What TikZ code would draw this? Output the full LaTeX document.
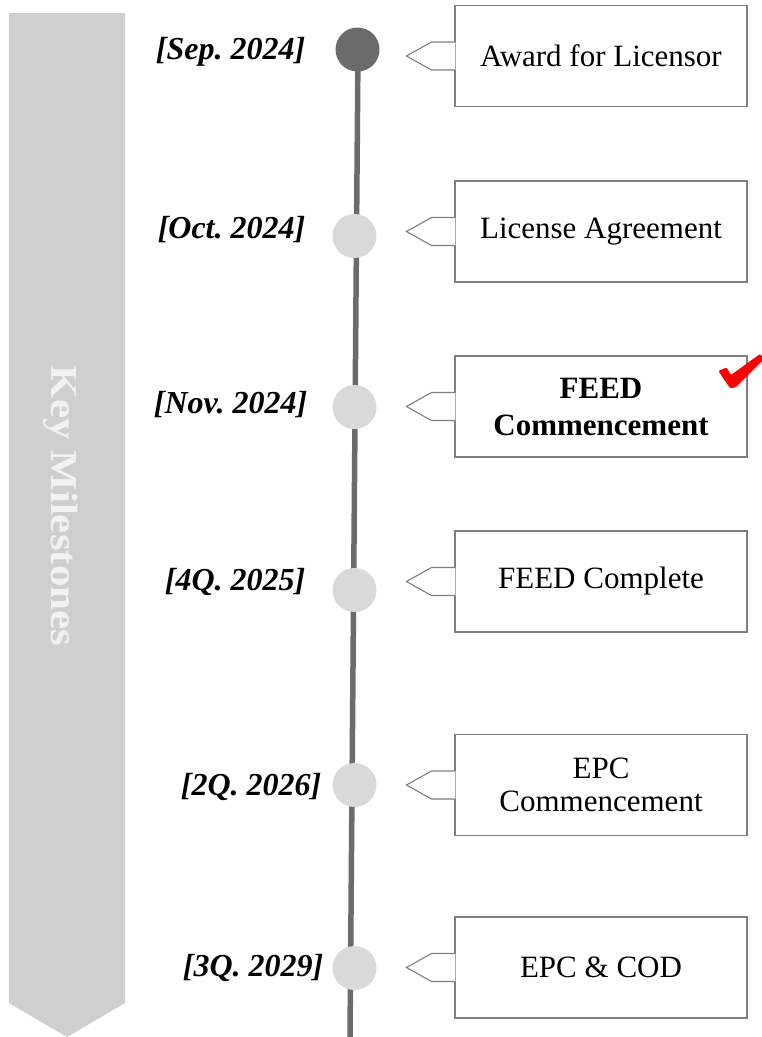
\documentclass[tikz,border=0pt]{standalone}
\usepackage{fontspec}
\setmainfont{Liberation Serif}
\usepackage{tikz}
\usetikzlibrary{positioning,calc}
\definecolor{bandgray}{HTML}{CFCFCF}
\definecolor{linegray}{HTML}{6B6B6B}
\definecolor{dotgray}{HTML}{D9D9D9}
\definecolor{boxgray}{HTML}{7F7F7F}
\tikzset{every picture/.style={line width=0.75pt}}

\begin{document}
\frenchspacing
\begin{tikzpicture}[x=1pt,y=-1pt,
    dot/.style={circle,minimum size=44pt,inner sep=0pt,fill=dotgray},
    datelbl/.style={anchor=east,font=\fontsize{32}{36}\selectfont\bfseries\itshape},
    callout/.style={draw=boxgray,line width=1.1pt,fill=white,minimum width=292pt,minimum height=101pt,
        align=center,inner sep=2pt,font=\fontsize{31}{33}\selectfont},
    notch/.style={draw=boxgray,line width=1.1pt,fill=white}]
    \useasboundingbox (0,0) rectangle (762,1037);

    % Band on the left
    \fill[bandgray] (9,13) -- (125,13) -- (125,1003) -- (67,1037) -- (9,1003) -- cycle;
    \node[rotate=-90,text=white!95!black,font=\fontsize{38}{40}\selectfont\bfseries] (band) at (61,506)
        {\scalebox{1.13}[1]{Key Milestones}};

    % Time line
    \coordinate (top) at (358,50);
    \coordinate (bot) at (350,1037);
    \draw[linegray,line width=5.5pt] (top) -- (bot);

    % Milestone dots
    \node[dot,fill=linegray] (c1) at (357.5,49.5) {};
    \node[dot] (c2) at (354.5,236) {};
    \node[dot] (c3) at (354.5,407) {};
    \node[dot] (c4) at (354.5,590) {};
    \node[dot] (c5) at (354.5,785) {};
    \node[dot] (c6) at (354.5,968) {};

    % Dates
    \node[datelbl] (d1) at (309,52) {[Sep. 2024]};
    \node[datelbl] (d2) at (309,230) {[Oct. 2024]};
    \node[datelbl] (d3) at (311,405) {[Nov. 2024]};
    \node[datelbl] (d4) at (309,582) {[4Q. 2025]};
    \node[datelbl] (d5) at (325,787) {[2Q. 2026]};
    \node[datelbl] (d6) at (327,968) {[3Q. 2029]};

    % Callout boxes
    \node[callout] (b1) at (601,56) {Award for Licensor};
    \node[callout] (b2) at (601,231.5) {License Agreement};
    \node[callout,font=\fontsize{31}{37}\selectfont\bfseries] (b3) at (601,406.5) {FEED\\Commencement};
    \node[callout] (b4) at (601,581.5) {FEED Complete};
    \node[callout] (b5) at (601,785) {EPC\\Commencement};
    \node[callout] (b6) at (601,967.5) {EPC \& COD};
    \foreach \n in {1,...,6}
        \draw[notch] ([xshift=1pt,yshift=14pt]b\n.west) -- ++(-24,0) -- ++(-25,14) -- ++(25,14) -- ++(24,0);

    % Red check mark
    \fill[red,rounded corners=1pt] (718.5,371) -- (726.5,367.5) -- (731,375) -- (760,354)
        -- (764,359) -- (735.5,387.5) -- (730,388) -- (723,378) -- cycle;
\end{tikzpicture}
\end{document}
